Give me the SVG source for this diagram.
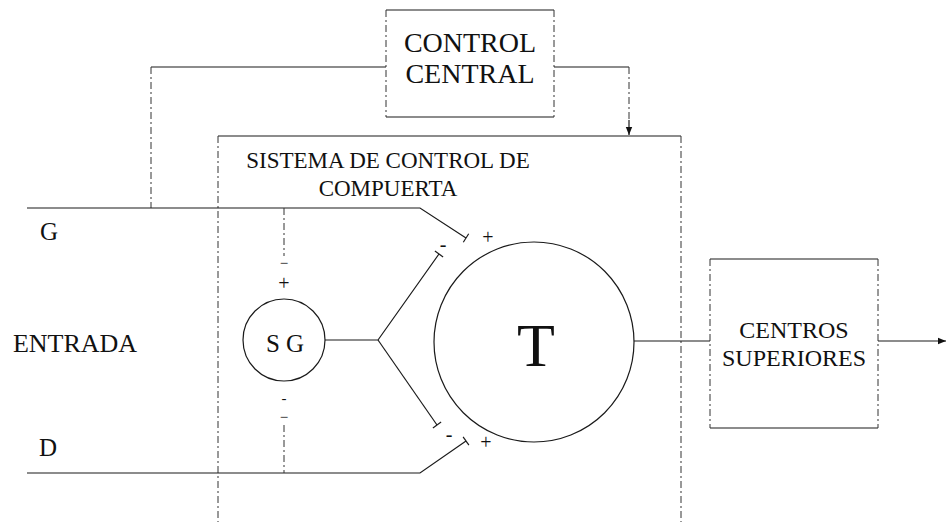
<svg xmlns="http://www.w3.org/2000/svg" width="947" height="525" viewBox="0 0 947 525">
<style>
.ln{fill:none;stroke:#1a1a1a;stroke-width:1.2}
.dl{fill:none;stroke:#333;stroke-width:1;stroke-dasharray:7 3 2 3}
.tx{font-family:"Liberation Serif","Times New Roman",serif;fill:#111;text-anchor:middle}
.sg{font-family:"Liberation Serif","Times New Roman",serif;fill:#111;text-anchor:middle;font-size:20px}
.sm{font-family:"Liberation Serif","Times New Roman",serif;fill:#111;text-anchor:middle;font-size:15px}
</style>
<defs>
<marker id="ah" viewBox="0 0 10 10" refX="10" refY="5" markerWidth="8" markerHeight="8" markerUnits="userSpaceOnUse" orient="auto">
<path d="M0,1 L10,5 L0,9 Z" fill="#111"/>
</marker>
</defs>
<rect width="947" height="525" fill="#fff"/>

<g id="control-central">
<line class="ln" x1="386" y1="10" x2="554" y2="10"/>
<line class="ln" x1="386" y1="117" x2="554" y2="117"/>
<line class="dl" x1="386" y1="10" x2="386" y2="117"/>
<line class="dl" x1="554" y1="10" x2="554" y2="117"/>
<text class="tx" x="470" y="52" font-size="28">CONTROL</text>
<text class="tx" x="470" y="83" font-size="28">CENTRAL</text>
</g>

<g id="sistema">
<line class="ln" x1="218" y1="136" x2="681" y2="136"/>
<line class="dl" x1="218" y1="136" x2="218" y2="522"/>
<line class="dl" x1="681" y1="136" x2="681" y2="522"/>
<text class="tx" x="388" y="168" font-size="23">SISTEMA DE CONTROL DE</text>
<text class="tx" x="388" y="196" font-size="23">COMPUERTA</text>
</g>

<g id="sg">
<circle class="ln" cx="284" cy="340" r="41"/>
<text class="tx" x="285" y="352" font-size="25">S G</text>
</g>

<g id="t">
<circle class="ln" cx="534" cy="342" r="100"/>
<text class="tx" x="536" y="366" font-size="62">T</text>
</g>

<g id="centros">
<line class="ln" x1="710" y1="259" x2="878" y2="259"/>
<line class="ln" x1="710" y1="428" x2="878" y2="428"/>
<line class="dl" x1="710" y1="259" x2="710" y2="428"/>
<line class="dl" x1="878" y1="259" x2="878" y2="428"/>
<text class="tx" x="794" y="338" font-size="24">CENTROS</text>
<text class="tx" x="794" y="366" font-size="24">SUPERIORES</text>
</g>

<g id="labels">
<text class="tx" x="49" y="240" font-size="25">G</text>
<text class="tx" x="75" y="352" font-size="26">ENTRADA</text>
<text class="tx" x="48" y="456" font-size="25">D</text>
<text class="sm" x="284" y="268">−</text>
<text class="sg" x="284" y="290">+</text>
<text class="sm" x="284" y="403">-</text>
<text class="sm" x="284" y="422">−</text>
<text class="sg" x="443" y="251">-</text>
<text class="sg" x="488" y="244">+</text>
<text class="sg" x="449" y="441">-</text>
<text class="sg" x="486" y="449">+</text>
</g>

<g id="connectors">
<polyline class="ln" points="151,67 386,67"/>
<line class="dl" x1="151" y1="67" x2="151" y2="208"/>
<polyline class="ln" points="554,67 629,67"/>
<line class="dl" x1="629" y1="67" x2="629" y2="122"/>
<line class="ln" x1="629" y1="120" x2="629" y2="135" marker-end="url(#ah)"/>
<polyline class="ln" points="27,208 420,208 466,238"/>
<line class="ln" x1="463.3" y1="242.2" x2="468.7" y2="233.8"/>
<polyline class="ln" points="27,473 420,473 466,441"/>
<line class="ln" x1="463.1" y1="436.9" x2="468.9" y2="445.1"/>
<line class="dl" x1="284" y1="208" x2="284" y2="256"/>
<line class="dl" x1="284" y1="425" x2="284" y2="473"/>
<polyline class="ln" points="325,340 378,340 439,254"/>
<line class="ln" x1="434.9" y1="251.1" x2="443.1" y2="256.9"/>
<polyline class="ln" points="378,340 437,425"/>
<line class="ln" x1="432.9" y1="427.9" x2="441.1" y2="422.1"/>
<line class="ln" x1="634" y1="341" x2="710" y2="341"/>
<line class="ln" x1="878" y1="341" x2="946" y2="341" marker-end="url(#ah)"/>
</g>
</svg>
